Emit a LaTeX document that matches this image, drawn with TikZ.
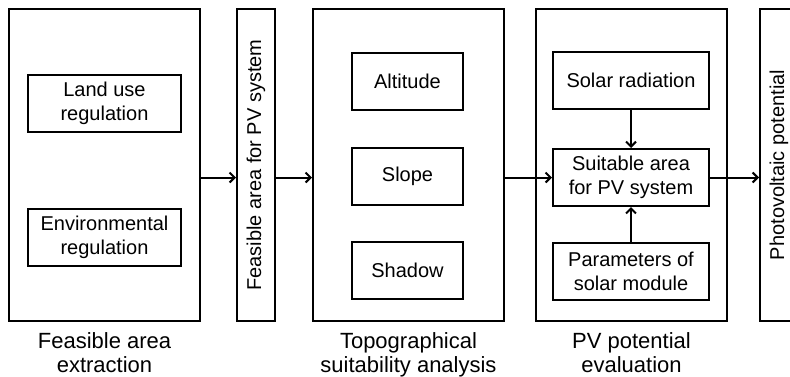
\documentclass[tikz,border=0pt]{standalone}
\usepackage{fontspec}
\setmainfont{Liberation Sans}
\usetikzlibrary{positioning,arrows.meta}
\tikzset{
  frame/.style = {rectangle, draw=black, line width=2pt,
                  minimum width=191pt, minimum height=312pt, inner sep=0pt},
  bar/.style   = {rectangle, draw=black, line width=2pt, rotate=90,
                  minimum width=312pt, minimum height=38pt, inner sep=0pt,
                  font=\fontsize{20pt}{24pt}\selectfont},
  block/.style = {rectangle, draw=black, line width=2pt,
                  minimum height=57pt, align=center, inner sep=0pt,
                  font=\fontsize{20pt}{24pt}\selectfont},
  caption/.style = {align=center, inner sep=0pt,
                  font=\fontsize{22pt}{24pt}\selectfont},
  arrow/.style = {line width=2pt, -{Straight Barb[length=5pt,width=10pt]}}
}

\begin{document}
\begin{tikzpicture}[x=1pt, y=-1pt]
\path[use as bounding box, clip] (0,0) rectangle (790,376);

\node (extract) [frame] at (104.5,165) {};
\node (feas)    [bar]   at (256,165)   {Feasible area for PV system};
\node (topo)    [frame] at (408.5,165) {};
\node (pveval)  [frame] at (631.5,165) {};
\node (photo)   [bar]   at (779,165)   {Photovoltaic potential};

\node (landuse)  [block, minimum width=153pt] at (104.5,103.5) {Land use\\regulation};
\node (envreg)   [block, minimum width=153pt] at (104.5,237.5) {Environmental\\regulation};

\node (slope)    [block, minimum width=111pt] at (407.5,176.5) {Slope};
\node (altitude) [block, minimum width=111pt, above=36pt of slope] {Altitude};
\node (shadow)   [block, minimum width=111pt, below=35pt of slope] {Shadow};

\node (suit)     [block, minimum width=156pt] at (631,177.5) {Suitable area\\for PV system};
\node (solar)    [block, minimum width=156pt, above=38pt of suit] {Solar radiation};
\node (params)   [block, minimum width=156pt, below=35pt of suit] {Parameters of\\solar module};

\node (extractlbl) [caption, below=10pt of extract] {Feasible area\\extraction};
\node (topolbl)    [caption, below=10pt of topo]    {Topographical\\suitability analysis};
\node (pvevallbl)  [caption, below=10pt of pveval]  {PV potential\\evaluation};

\draw[arrow] (extract.east |- suit) -- (feas.north |- suit);
\draw[arrow] (feas.south |- suit) -- (topo.west |- suit);
\draw[arrow] (topo.east |- suit) -- (suit.west);
\draw[arrow] (suit.east) -- (photo.north |- suit);
\draw[arrow] (solar) -- (suit);
\draw[arrow] (params) -- (suit);

\end{tikzpicture}
\end{document}
